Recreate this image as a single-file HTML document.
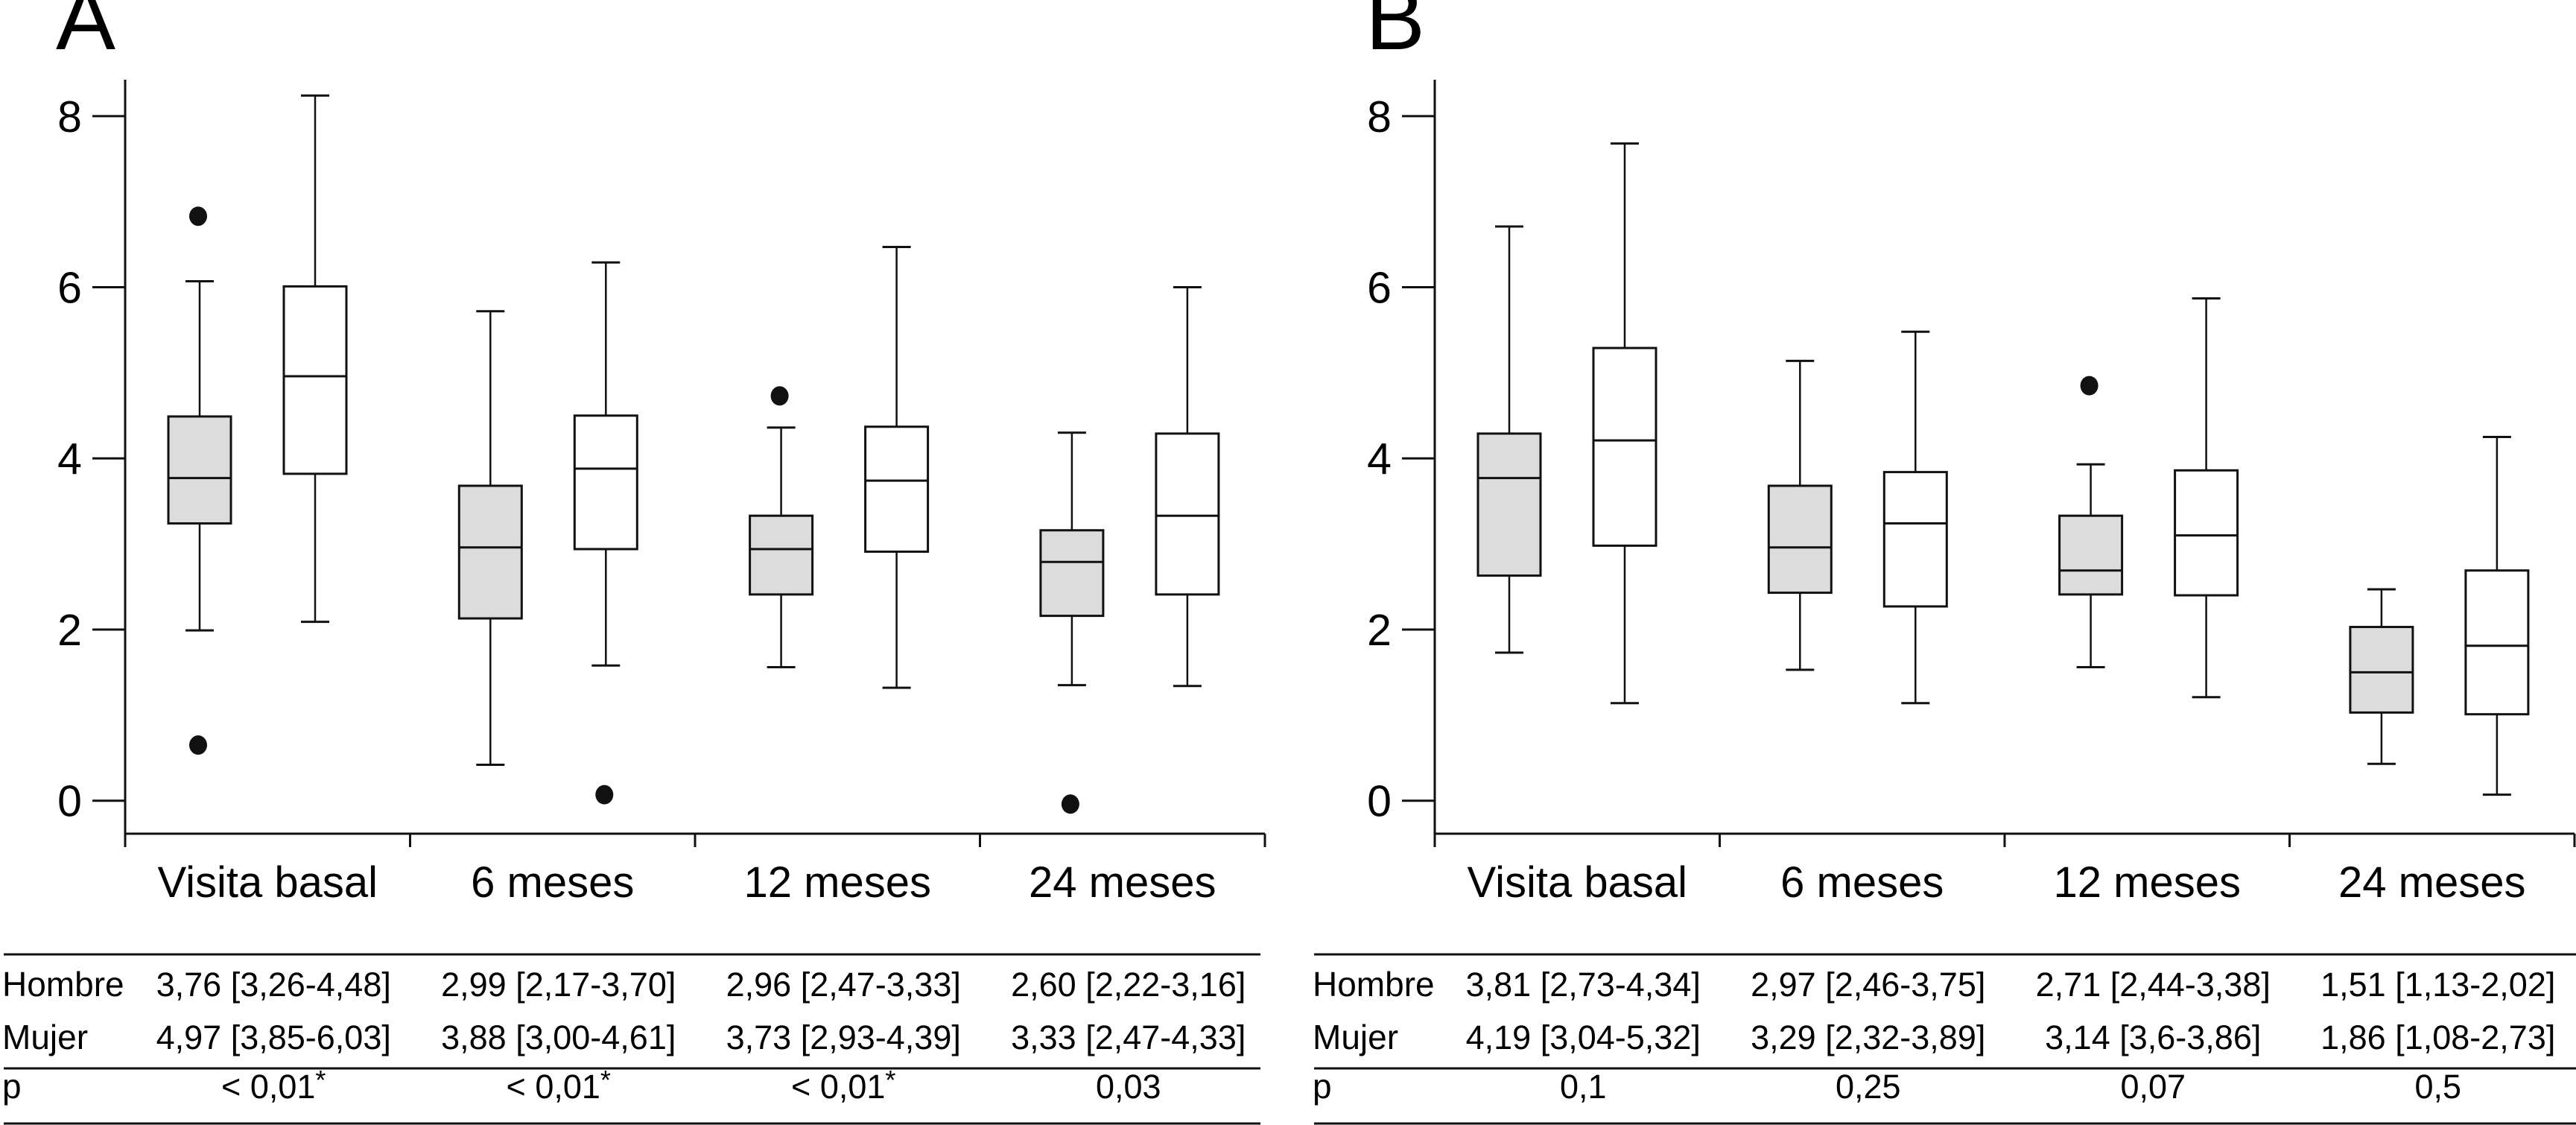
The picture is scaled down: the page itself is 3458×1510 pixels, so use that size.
<!DOCTYPE html>
<html><head><meta charset="utf-8"><style>
html,body{margin:0;padding:0;background:#fff;}
svg{display:block;font-family:"Liberation Sans",Arial,sans-serif;}
</style></head><body>
<svg id="chart" width="3458" height="1510" viewBox="0 0 3458 1510" xmlns="http://www.w3.org/2000/svg"></svg>
<script>
const categories = ["Visita basal","6 meses","12 meses","24 meses"];
const yTicks = [0,2,4,6,8];
// panel A: [whiskerLow, q1, median, q3, whiskerHigh]
const aHombre = [[1.99,3.24,3.77,4.49,6.07],[0.42,2.13,2.96,3.68,5.72],[1.56,2.41,2.94,3.33,4.36],[1.35,2.16,2.79,3.16,4.30]];
const aMujer  = [[2.09,3.82,4.96,6.01,8.24],[1.58,2.94,3.88,4.50,6.29],[1.32,2.91,3.74,4.37,6.47],[1.34,2.41,3.33,4.29,6.00]];
const aHombreOut = [[6.83,0.65],[],[4.73],[-0.04]];
const aMujerOut  = [[],[0.07],[],[]];
// panel B
const bHombre = [[1.73,2.63,3.77,4.29,6.71],[1.53,2.43,2.96,3.68,5.14],[1.56,2.41,2.69,3.33,3.93],[0.43,1.03,1.50,2.03,2.47]];
const bMujer  = [[1.14,2.98,4.21,5.29,7.68],[1.14,2.27,3.24,3.84,5.48],[1.21,2.40,3.10,3.86,5.87],[0.07,1.01,1.81,2.69,4.25]];
const bHombreOut = [[],[],[4.85],[]];
const bMujerOut  = [[],[],[],[]];
const aTableH = ["3,76 [3,26-4,48]","2,99 [2,17-3,70]","2,96 [2,47-3,33]","2,60 [2,22-3,16]"];
const aTableM = ["4,97 [3,85-6,03]","3,88 [3,00-4,61]","3,73 [2,93-4,39]","3,33 [2,47-4,33]"];
const aTableP = ["< 0,01*","< 0,01*","< 0,01*","0,03"];
const bTableH = ["3,81 [2,73-4,34]","2,97 [2,46-3,75]","2,71 [2,44-3,38]","1,51 [1,13-2,02]"];
const bTableM = ["4,19 [3,04-5,32]","3,29 [2,32-3,89]","3,14 [3,6-3,86]","1,86 [1,08-2,73]"];
const bTableP = ["0,1","0,25","0,07","0,5"];

const NS="http://www.w3.org/2000/svg";
const svg=document.getElementById('chart');
function mk(tag,attrs,parent){const e=document.createElementNS(NS,tag);for(const k in attrs)e.setAttribute(k,attrs[k]);(parent||svg).appendChild(e);return e;}
const y0=1074.7, yUnit=114.86;
function yScale(v){return y0 - v*yUnit;}

function panel(off, letter, H, M, HO, MO, tH, tM, tP, name){
  const g=mk('g',{});
  
  
  const axX=168+off, axR=1698+off;
  const sepW=(axR-axX)/categories.length;
  const L=mk('text',{x:77+off-2,y:66,'font-size':120},g); L.textContent=letter;
  
  
  const ya=mk('line',{x1:axX,y1:107,x2:axX,y2:1119,stroke:'#111','stroke-width':3},g);
  
  
  yTicks.forEach(t=>{
    const yy=yScale(t);
    const tk=mk('line',{x1:axX-44,y1:yy,x2:axX,y2:yy,stroke:'#111','stroke-width':3},g);
    
    
    const tx=mk('text',{x:axX-58,y:yy+21,'font-size':59,'text-anchor':'end'},g);
    tx.textContent=t;
    
    
  });
  const xa=mk('line',{x1:axX-1.5,y1:1119,x2:axR,y2:1119,stroke:'#111','stroke-width':3},g);
  
  
  for(let i=0;i<=categories.length;i++){
    const xx=axX+i*sepW;
    const s=mk('line',{x1:xx,y1:1119,x2:xx,y2:1137,stroke:'#111','stroke-width':3},g);
    
    
  }
  categories.forEach((c,i)=>{
    const cx=axX+(i+0.5)*sepW;
    const t=mk('text',{x:cx,y:1204,'font-size':58,'text-anchor':'middle'},g);
    t.textContent=c;
    
    
    const hx=268+off+i*390.3, mx=hx+155;
    [[H[i],hx,'#dcdcdc','box-hombre',HO[i]],[M[i],mx,'#ffffff','box-mujer',MO[i]]].forEach(([d,x,fill,nm,outs])=>{
      const bg=mk('g',{},g);
      
      
      const bw=84, cw=38;
      mk('line',{x1:x,y1:yScale(d[0]),x2:x,y2:yScale(d[1]),stroke:'#111','stroke-width':2.5},bg);
      mk('line',{x1:x,y1:yScale(d[3]),x2:x,y2:yScale(d[4]),stroke:'#111','stroke-width':2.5},bg);
      mk('line',{x1:x-cw/2,y1:yScale(d[0]),x2:x+cw/2,y2:yScale(d[0]),stroke:'#111','stroke-width':3},bg);
      mk('line',{x1:x-cw/2,y1:yScale(d[4]),x2:x+cw/2,y2:yScale(d[4]),stroke:'#111','stroke-width':3},bg);
      mk('rect',{x:x-bw/2,y:yScale(d[3]),width:bw,height:yScale(d[1])-yScale(d[3]),fill:fill,stroke:'#111','stroke-width':3},bg);
      mk('line',{x1:x-bw/2,y1:yScale(d[2]),x2:x+bw/2,y2:yScale(d[2]),stroke:'#111','stroke-width':3},bg);
      outs.forEach(o=>{
        const dot=mk('ellipse',{cx:x-2,cy:yScale(o),rx:12,ry:13,fill:'#111'},bg);
        
        
      });
    });
  });
  const tl=off===0?5:1764, tr=off===0?1692:3458;
  [1281,1434,1508].forEach(yy=>{
    const ln=mk('line',{x1:tl,y1:yy,x2:tr,y2:yy,stroke:'#111','stroke-width':3},g);
    
    
  });
  const rows=[['Hombre',tH,1337],['Mujer',tM,1408],['p',tP,1474]];
  rows.forEach(([lab,vals,by])=>{
    const t=mk('text',{x:tl-2,y:by,'font-size':46},g);
    t.textContent=lab;
    
    
    vals.forEach((v,i)=>{
      const cx=axX+(i+0.5)*sepW+8;
      const tv=mk('text',{x:cx,y:by,'font-size':45,'text-anchor':'middle'},g);
      if(v.endsWith('*')){tv.textContent=v.slice(0,-1);const sp=mk('tspan',{'font-size':36,dy:-12},tv);sp.textContent='*';}
      else tv.textContent=v;
      
      
    });
  });
}
panel(0,'A',aHombre,aMujer,aHombreOut,aMujerOut,aTableH,aTableM,aTableP,'panel-a');
panel(1758,'B',bHombre,bMujer,bHombreOut,bMujerOut,bTableH,bTableM,bTableP,'panel-b');
</script>
</body></html>
